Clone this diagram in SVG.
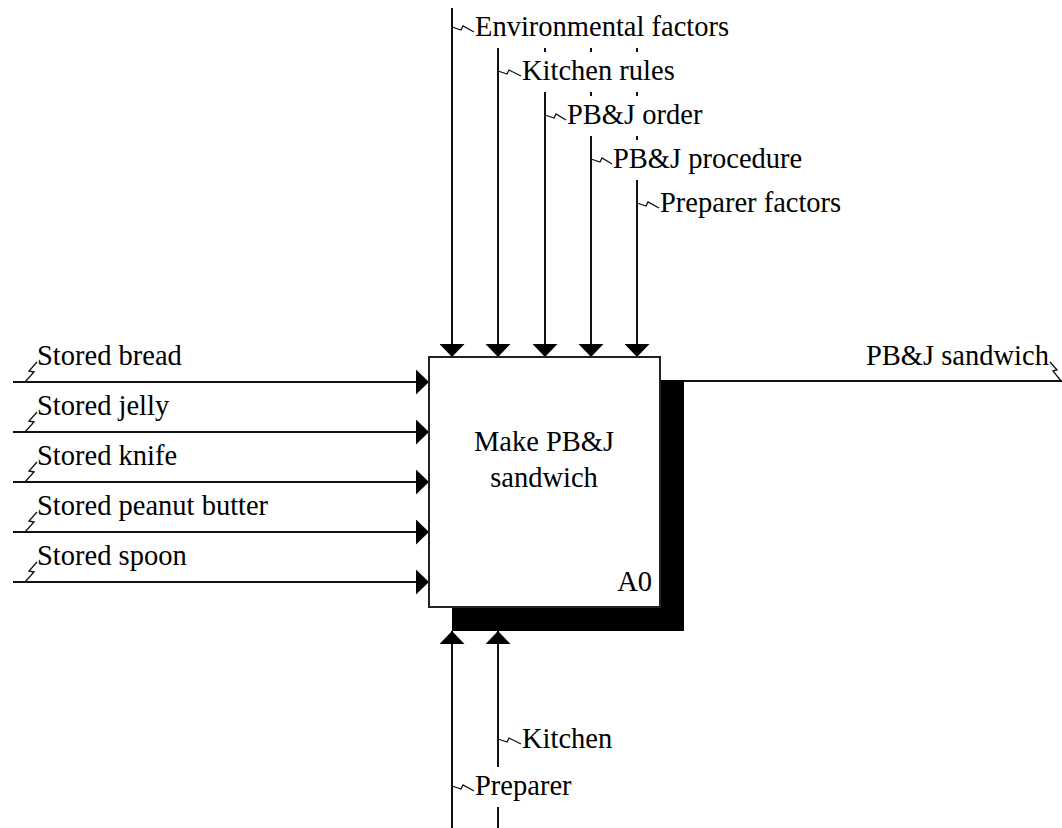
<svg xmlns="http://www.w3.org/2000/svg" width="1062" height="828" viewBox="0 0 1062 828">
  <style>
    text { font-family: "Liberation Serif", "Times New Roman", serif; font-size: 28.5px; fill: #000; }
    .arrow { stroke: #111; stroke-width: 2; fill: none; }
    .in { marker-end: url(#head); }
    .sq { stroke: #111; stroke-width: 1.3; fill: none; }
    .bg { fill: #fff; stroke: none; }
    .box { fill: #fff; stroke: #222; stroke-width: 2; }
    .shadow { fill: #000; }
  </style>
  <defs>
    <marker id="head" markerUnits="userSpaceOnUse" markerWidth="13" markerHeight="25" refX="13" refY="12.5" orient="auto">
      <path d="M0,0 L13,12.5 L0,25 Z" fill="#000"/>
    </marker>
  </defs>

  <rect width="1062" height="828" fill="#fff"/>

  <!-- connectors -->
  <g id="connectors">
    <!-- inputs -->
    <line class="arrow in" x1="13" y1="382" x2="429" y2="382"/>
    <line class="arrow in" x1="13" y1="432" x2="429" y2="432"/>
    <line class="arrow in" x1="13" y1="482" x2="429" y2="482"/>
    <line class="arrow in" x1="13" y1="532" x2="429" y2="532"/>
    <line class="arrow in" x1="13" y1="582" x2="429" y2="582"/>
    <!-- controls -->
    <line class="arrow in" x1="452" y1="8" x2="452" y2="357"/>
    <line class="arrow in" x1="498" y1="8" x2="498" y2="357"/>
    <line class="arrow in" x1="545" y1="8" x2="545" y2="357"/>
    <line class="arrow in" x1="591" y1="8" x2="591" y2="357"/>
    <line class="arrow in" x1="637" y1="8" x2="637" y2="357"/>
    <!-- mechanisms -->
    <line class="arrow in" x1="452" y1="828" x2="452" y2="631"/>
    <line class="arrow in" x1="498" y1="828" x2="498" y2="631"/>
    <!-- output -->
    <line class="arrow" x1="684" y1="381" x2="1062" y2="381"/>
  </g>

  <!-- activity box -->
  <g id="A0">
    <rect class="shadow" x="452" y="380" width="232" height="251"/>
    <rect class="box" x="429" y="357" width="231" height="250"/>
    <text x="544" y="451" text-anchor="middle">Make PB&amp;J</text>
    <text x="544" y="487" text-anchor="middle">sandwich</text>
    <text x="652" y="591" text-anchor="end">A0</text>
  </g>

  <!-- control labels -->
  <g id="label-environmental-factors">
    <rect class="bg" x="454" y="8" width="274" height="40"/>
    <path class="sq" d="M452,27 L461,30 L463,26 L474,32"/>
    <text x="475" y="36">Environmental factors</text>
  </g>
  <g id="label-kitchen-rules">
    <rect class="bg" x="500" y="52" width="174" height="40"/>
    <path class="sq" d="M498,71 L507,74 L509,70 L521,76"/>
    <text x="522" y="80">Kitchen rules</text>
  </g>
  <g id="label-pbj-order">
    <rect class="bg" x="547" y="96" width="166" height="40"/>
    <path class="sq" d="M545,115 L554,118 L556,114 L566,120"/>
    <text x="567" y="124">PB&amp;J order</text>
  </g>
  <g id="label-pbj-procedure">
    <rect class="bg" x="593" y="140" width="222" height="40"/>
    <path class="sq" d="M591,159 L600,162 L602,158 L612,164"/>
    <text x="613" y="168">PB&amp;J procedure</text>
  </g>
  <g id="label-preparer-factors">
    <rect class="bg" x="639" y="184" width="212" height="40"/>
    <path class="sq" d="M637,203 L646,206 L648,202 L659,208"/>
    <text x="660" y="212">Preparer factors</text>
  </g>

  <!-- input labels -->
  <g id="label-stored-bread">
    <path class="sq" d="M37,362 L29,371 L34,372 L25,382"/>
    <text x="37" y="365">Stored bread</text>
  </g>
  <g id="label-stored-jelly">
    <path class="sq" d="M37,412 L29,421 L34,422 L25,432"/>
    <text x="37" y="415">Stored jelly</text>
  </g>
  <g id="label-stored-knife">
    <path class="sq" d="M37,462 L29,471 L34,472 L25,482"/>
    <text x="37" y="465">Stored knife</text>
  </g>
  <g id="label-stored-peanut-butter">
    <path class="sq" d="M37,512 L29,521 L34,522 L25,532"/>
    <text x="37" y="515">Stored peanut butter</text>
  </g>
  <g id="label-stored-spoon">
    <path class="sq" d="M37,562 L29,571 L34,572 L25,582"/>
    <text x="37" y="565">Stored spoon</text>
  </g>

  <!-- output label -->
  <g id="label-pbj-sandwich">
    <text x="866" y="365">PB&amp;J sandwich</text>
    <path class="sq" d="M1050,362 L1057,370 L1053,371 L1061,381"/>
  </g>

  <!-- mechanism labels -->
  <g id="label-kitchen">
    <rect class="bg" x="500" y="720" width="116" height="40"/>
    <path class="sq" d="M498,739 L507,742 L509,738 L521,744"/>
    <text x="522" y="748">Kitchen</text>
  </g>
  <g id="label-preparer">
    <rect class="bg" x="454" y="767" width="126" height="40"/>
    <path class="sq" d="M452,786 L461,789 L463,785 L474,791"/>
    <text x="475" y="795">Preparer</text>
  </g>
</svg>
